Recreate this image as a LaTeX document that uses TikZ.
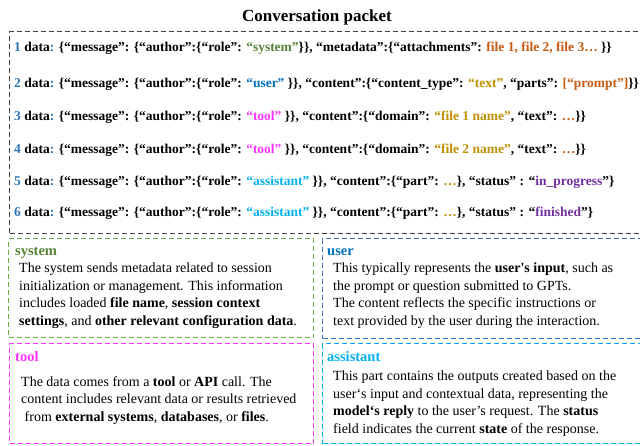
\documentclass[tikz,border=0pt]{standalone}
\usepackage{fontspec}
\setmainfont{Liberation Serif}[Ligatures=TeX]
\newfontfamily\tnr{Liberation Serif}[Ligatures=TeX]
\definecolor{numblue}{HTML}{2E75B6}
\definecolor{sysgreen}{HTML}{548235}
\definecolor{userblue}{HTML}{0070C0}
\definecolor{toolmag}{HTML}{FF33FF}
\definecolor{asstcyan}{HTML}{00B0F0}
\definecolor{orangec}{HTML}{C55A11}
\definecolor{goldc}{HTML}{BF9000}
\definecolor{purplec}{HTML}{7030A0}
\definecolor{outergray}{HTML}{404040}
\definecolor{boxgreen}{HTML}{70AD47}
\definecolor{boxblue}{HTML}{4472C4}
\newcommand{\N}[1]{\textcolor{numblue}{#1} data\textcolor{numblue}{:} }
\begin{document}
\begin{tikzpicture}[x=1pt,y=-1pt,
  dbox/.style={draw, line width=1.2pt, dash pattern=on 5pt off 3pt, anchor=north west, inner sep=0pt},
  pline/.style={anchor=base west, inner sep=0pt, font=\tnr\fontsize{13.5}{16}\selectfont\bfseries},
  head/.style={anchor=base west, inner sep=0pt, font=\tnr\fontsize{14.5}{17}\selectfont\bfseries},
  body/.style={anchor=north west, inner sep=0pt, align=left, font=\tnr\fontsize{14}{17.5}\selectfont}]
\useasboundingbox (0,0) rectangle (640,445);
\clip (0,0) rectangle (640,445);
\node[font=\tnr\fontsize{17}{20}\selectfont\bfseries] (title) at (317,17) {Conversation packet};
\node[dbox, draw=outergray, minimum width=645pt, minimum height=202pt] (packet) at (9,31) {};
\node[pline] (l1) at (14,51) {\N{1}\{“message”: \{“author”:\{“role”: \textcolor{sysgreen}{“system”}\}\}, “metadata”:\{“attachments”: \textcolor{orangec}{file 1, file 2, file 3…} \}\}};
\node[pline] (l2) at (14,87) {\N{2}\{“message”: \{“author”:\{“role”: \textcolor{userblue}{“user”} \}\}, “content”:\{“content\_type”: \textcolor{goldc}{“text”}, “parts”: \textcolor{orangec}{[“prompt”]}\}\}};
\node[pline] (l3) at (14,120) {\N{3}\{“message”: \{“author”:\{“role”: \textcolor{toolmag}{“tool”} \}\}, “content”:\{“domain”: \textcolor{goldc}{“file 1 name”}, “text”: \textcolor{orangec}{…}\}\}};
\node[pline] (l4) at (14,153) {\N{4}\{“message”: \{“author”:\{“role”: \textcolor{toolmag}{“tool”} \}\}, “content”:\{“domain”: \textcolor{goldc}{“file 2 name”}, “text”: \textcolor{orangec}{…}\}\}};
\node[pline] (l5) at (14,185) {\N{5}\{“message”: \{“author”:\{“role”: \textcolor{asstcyan}{“assistant”} \}\}, “content”:\{“part”: \textcolor{goldc}{…}\}, “status” : “\textcolor{purplec}{in\_progress}”\}};
\node[pline] (l6) at (14,216) {\N{6}\{“message”: \{“author”:\{“role”: \textcolor{asstcyan}{“assistant”} \}\}, “content”:\{“part”: \textcolor{goldc}{…}\}, “status” : “\textcolor{purplec}{finished}”\}};
% lower boxes
\node[dbox, draw=boxgreen, minimum width=305pt, minimum height=99pt] (sysbox) at (8,238) {};
\node[dbox, draw=boxblue, minimum width=330pt, minimum height=100pt] (userbox) at (322,238) {};
\node[dbox, draw=toolmag, minimum width=304pt, minimum height=100pt] (toolbox) at (9,343) {};
\node[dbox, draw=asstcyan, minimum width=330pt, minimum height=100pt] (asstbox) at (322,343) {};
\node[head, text=sysgreen] (sysh) at (15,255) {system};
\node[head, text=userblue] (userh) at (327,255) {user};
\node[head, text=toolmag] (toolh) at (15,361) {tool};
\node[head, text=asstcyan] (assth) at (327,361) {assistant};
\node[body] (sysb) at (19,263) {The system sends metadata related to session\\initialization or management. This information\\includes loaded \textbf{file name}, \textbf{session context}\\\textbf{settings}, and \textbf{other relevant configuration data}.};
\node[body] (userb) at (333,263) {This typically represents the \textbf{user\textquotesingle s input}, such as\\the prompt or question submitted to GPTs.\\The content reflects the specific instructions or\\text provided by the user during the interaction.};
\node[body] (toolb) at (21,376) {The data comes from a \textbf{tool} or \textbf{API} call. The\\content includes relevant data or results retrieved\\\ from \textbf{external systems}, \textbf{databases}, or \textbf{files}.};
\node[body] (asstb) at (333,371) {This part contains the outputs created based on the\\user‘s input and contextual data, representing the\\\textbf{model‘s reply} to the user’s request. The \textbf{status}\\field indicates the current \textbf{state} of the response.};
\end{tikzpicture}
\end{document}
